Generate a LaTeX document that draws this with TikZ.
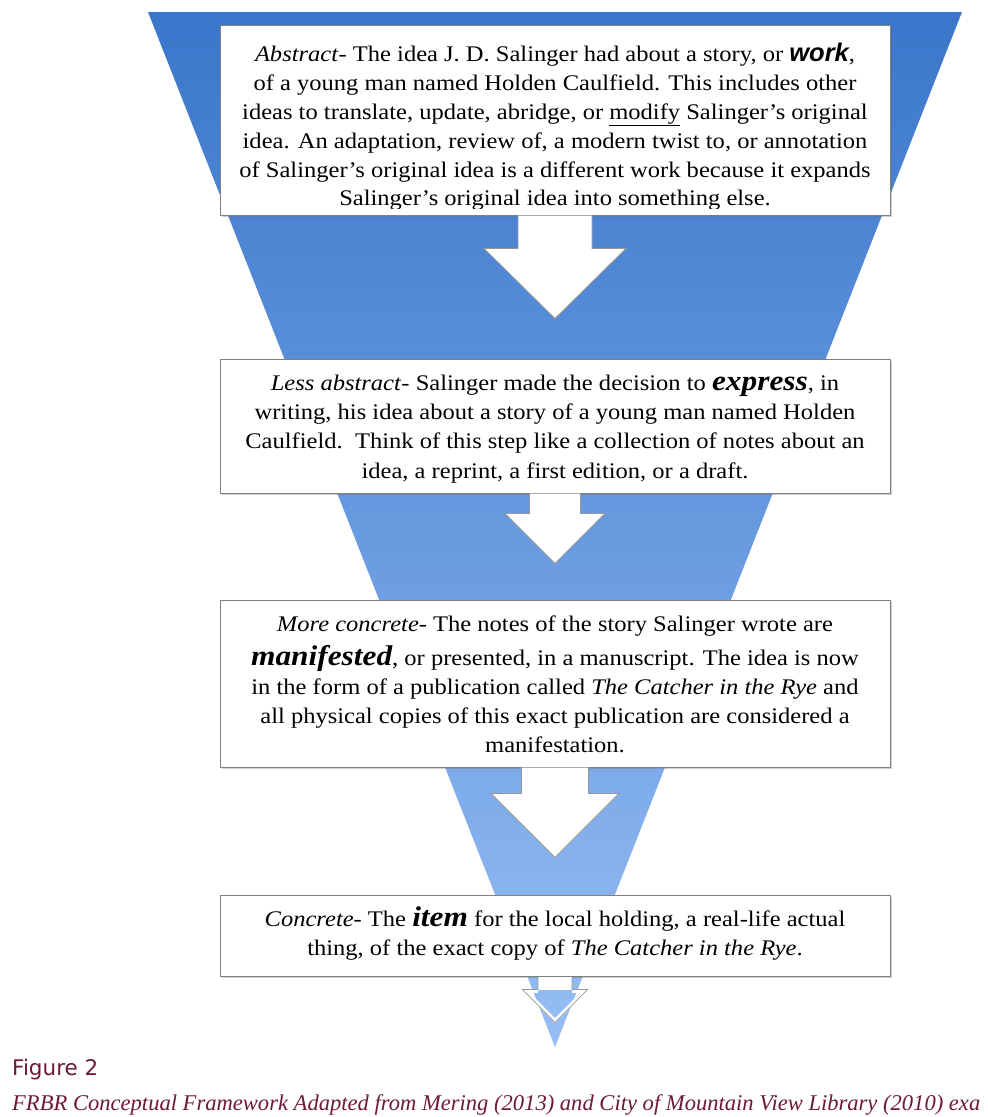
\documentclass[tikz,border=0pt]{standalone}
\usepackage{fontspec}
\usepackage{graphicx}
\setmainfont{Liberation Serif}[FakeStretch=1.1]
\newfontfamily\worksf{Liberation Sans}
\newfontfamily\figsf{DejaVu Sans}
\newfontfamily\capserif{Liberation Serif}
\usetikzlibrary{calc,shadows}
\definecolor{funtop}{RGB}{58,118,202}
\definecolor{funbot}{RGB}{150,190,245}
\definecolor{capred}{RGB}{110,26,50}
\definecolor{boxline}{RGB}{128,128,128}
\definecolor{arrline}{RGB}{150,150,150}
\newcommand{\wordwork}[1]{\smash{\worksf\bfseries\itshape\fontsize{25.5}{26}\selectfont #1}}
\newcommand{\wordbig}[1]{\smash{\bfseries\itshape\fontsize{28.5}{30}\selectfont #1}}
\newcommand{\blockarrow}[5]{%
  \filldraw[arrst] ($(#1.south)+(-#2,0)$) -- ($(#1.south)+(-#2,#3)$) -- ($(#1.south)+(-#4,#3)$)
    -- ($(#1.south)+(0,#3+#5)$) -- ($(#1.south)+(#4,#3)$) -- ($(#1.south)+(#2,#3)$) -- ($(#1.south)+(#2,0)$);}
\tikzset{
  boxst/.style={rectangle, draw=boxline, line width=1pt, fill=white, inner sep=0pt,
    drop shadow={shadow xshift=1.5pt, shadow yshift=-1.5pt, opacity=0.3, fill=black!60}},
  txtst/.style={align=center, inner sep=0pt, anchor=north},
  arrst/.style={fill=white, draw=arrline, line width=0.8pt, line join=miter},
}
\begin{document}
\begin{tikzpicture}[x=1pt,y=-1pt]
\useasboundingbox (0,0) rectangle (988,1117);
\fill[white] (0,0) rectangle (988,1117);
% funnel
\shade[top color=funtop, bottom color=funbot] (148,12) -- (962,12) -- (555,1047) -- cycle;
% boxes
\node[boxst, minimum width=670pt, minimum height=190pt] (b1) at (555,120) {};
\node[boxst, minimum width=670pt, minimum height=134pt] (b2) at (555,426) {};
\node[boxst, minimum width=670pt, minimum height=167pt] (b3) at (555,683.5) {};
\node[boxst, minimum width=670pt, minimum height=81pt] (b4) at (555,935.5) {};
% arrows
\blockarrow{b1}{37}{33}{71}{70}
\blockarrow{b2}{25.5}{20}{50}{50}
\blockarrow{b3}{33.5}{26}{64}{64}
\fill[white] ($(b4.south)+(-17,0)$) rectangle ($(b4.south)+(17,13)$);
\draw[white, line width=3.5pt, line join=miter] ($(b4.south)+(-17,14.5)$) -- ($(b4.south)+(-29.5,14.5)$) -- ($(b4.south)+(0,44)$) -- ($(b4.south)+(29.5,14.5)$) -- ($(b4.south)+(17,14.5)$);
\draw[arrline, line width=0.7pt, line join=miter] ($(b4.south)+(-17,0)$) -- ($(b4.south)+(-17,13)$) -- ($(b4.south)+(-32.5,13)$)
  -- ($(b4.south)+(0,46)$) -- ($(b4.south)+(32.5,13)$) -- ($(b4.south)+(17,13)$) -- ($(b4.south)+(17,0)$);
% texts
\begin{scope}
\clip (220,25) rectangle (890,208);
\node[txtst, font=\fontsize{22.3}{28.8}\selectfont] (t1) at (555,41.5) {\strut\textit{Abstract}- The idea J. D. Salinger had about a story, or \wordwork{work},\\
of a young man named Holden Caulfield. This includes other\\
ideas to translate, update, abridge, or \underline{modify} Salinger’s original\\
idea. An adaptation, review of, a modern twist to, or annotation\\
of Salinger’s original idea is a different work because it expands\\
Salinger’s original idea into something else.};
\end{scope}
\begin{scope}
\clip (220,359) rectangle (890,483);
\node[txtst, font=\fontsize{22.3}{29.3}\selectfont] (t2) at (555,369.5) {\strut\textit{Less abstract}- Salinger made the decision to \wordbig{express}, in\\
writing, his idea about a story of a young man named Holden\\
Caulfield.\ \ Think of this step like a collection of notes about an\\
idea, a reprint, a first edition, or a draft.};
\end{scope}
\node[txtst, font=\fontsize{22.3}{29.3}\selectfont] (t3) at (555,611) {\strut\textit{More concrete}- The notes of the story Salinger wrote are\\[4pt]
\wordbig{manifested}, or presented, in a manuscript. The idea is now\\
in the form of a publication called \textit{The Catcher in the Rye} and\\
all physical copies of this exact publication are considered a\\
manifestation.};
\node[txtst, font=\fontsize{22.3}{29}\selectfont] (t4) at (555,906) {\strut\textit{Concrete}- The \wordbig{item} for the local holding, a real-life actual\\
thing, of the exact copy of \textit{The Catcher in the Rye}.};
% caption
\node[anchor=base west, inner sep=0pt, text=capred, font=\figsf\fontsize{21.5}{25}\selectfont] (figlabel) at (12,1075) {Figure 2};
\node[anchor=base west, inner sep=0pt, text=capred, font=\capserif\itshape\fontsize{22.5}{26}\selectfont] (caption) at (12,1110) {\resizebox{968pt}{\height}{FRBR Conceptual Framework Adapted from Mering (2013) and City of Mountain View Library (2010) exa}};
\end{tikzpicture}
\end{document}
